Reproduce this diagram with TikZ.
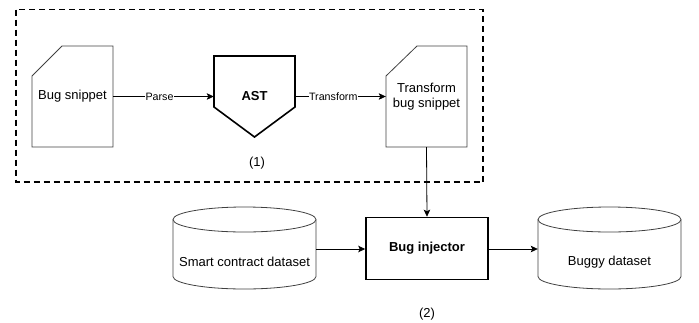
\documentclass[tikz,border=0pt]{standalone}
\usepackage{fontspec}
\setmainfont{Liberation Sans}
\usetikzlibrary{arrows.meta}
\tikzset{
  shapeline/.style={draw=black!75, line width=0.8pt},
  thickline/.style={draw=black, line width=1.6pt, line join=miter},
  txt/.style={draw=none, font=\fontsize{13}{15.5}\selectfont, align=center, inner sep=0pt},
  arr/.style={draw=black, line width=0.8pt, -{Stealth[length=7pt,width=6.5pt,inset=1.5pt]}},
  lbl/.style={fill=white, inner sep=0.5pt, font=\fontsize{10.7}{12}\selectfont},
}
\begin{document}
\begin{tikzpicture}[x=1pt,y=-1pt]
\useasboundingbox (0,0) rectangle (699,322);
% dashed group
\draw[line width=1.6pt, dash pattern=on 6pt off 4pt] (16,9.5) rectangle (483,182);
% bug snippet card
\draw[shapeline] (32,76) -- (62,46) -- (113,46) -- (113,147) -- (32,147) -- cycle;
\node[txt, minimum width=81pt, minimum height=101pt] (bs) at (72.5,96.5) {Bug snippet};
% AST pentagon
\draw[thickline] (214,56) -- (295,56) -- (295,107) -- (254.5,137) -- (214,107) -- cycle;
\node[txt, font=\fontsize{13}{15.5}\selectfont\bfseries, minimum width=81pt, minimum height=20pt] (ast) at (254.5,96.5) {AST};
% transform card
\draw[shapeline] (386,76) -- (417,46) -- (467,46) -- (467,147) -- (386,147) -- cycle;
\node[txt, minimum width=81pt, minimum height=101pt] (ts) at (426.5,96.5) {Transform\\bug snippet};
% label (1)
\node[txt] (l1) at (257,163) {(1)};
% bug injector
\node[txt, thickline, font=\fontsize{13}{15.5}\selectfont\bfseries, minimum width=122pt, minimum height=62pt] (bi) at (427,248.5) {Bug injector};
% smart contract cylinder
\draw[shapeline] (244.5,219.5) ellipse [x radius=71.5, y radius=12.5];
\draw[shapeline] (173,219.5) -- (173,276.5) arc[start angle=180, end angle=0, x radius=71.5, y radius=12.5] -- (316,219.5);
\node[txt, minimum width=143pt, minimum height=82pt] (sc) at (244.5,249) {};
\node[txt] (sct) at (244.5,262) {Smart contract dataset};
% buggy cylinder
\draw[shapeline] (609.5,219.5) ellipse [x radius=71.5, y radius=12.5];
\draw[shapeline] (538,219.5) -- (538,276.5) arc[start angle=180, end angle=0, x radius=71.5, y radius=12.5] -- (681,219.5);
\node[txt, minimum width=143pt, minimum height=82pt] (bd) at (609.5,249) {};
\node[txt] (bdt) at (609.5,262) {Buggy dataset};
% label (2)
\node[txt] (l2) at (427,314) {(2)};
% connectors
\draw[arr] (bs.east) -- node[lbl, pos=0.46] {Parse} (ast.west);
\draw[arr] (ast.east) -- node[lbl, pos=0.42] {Transform} (ts.west);
\draw[arr] (ts.south) -- (bi.north);
\draw[arr] (sc.east) -- (bi.west |- sc.east);
\draw[arr] (bi.east |- bd.west) -- (bd.west);
\end{tikzpicture}
\end{document}
